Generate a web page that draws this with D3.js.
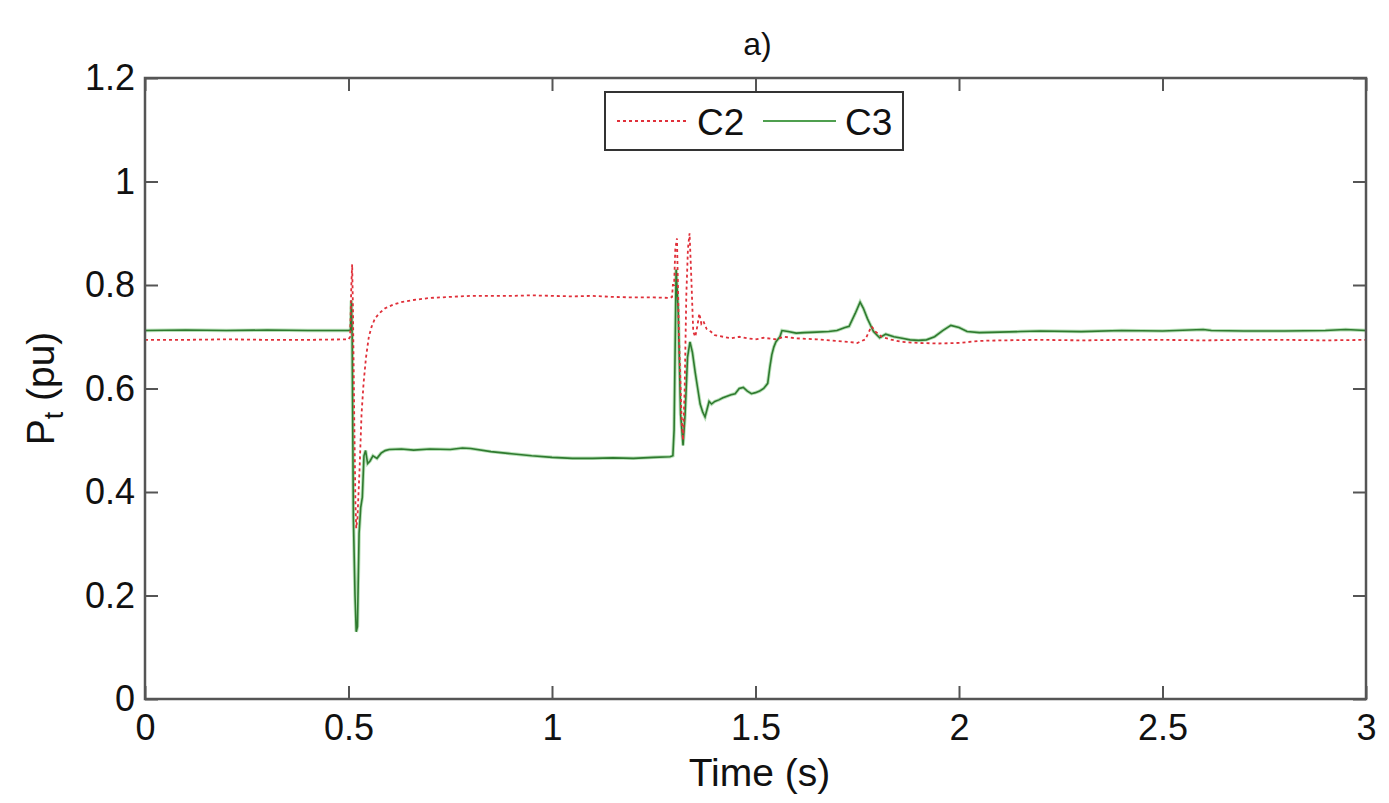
<!DOCTYPE html>
<html><head><meta charset="utf-8">
<script src="https://cdn.jsdelivr.net/npm/d3@7"></script>
<style>body{margin:0;background:#fff;} svg text{font-family:"Liberation Sans",Arial,sans-serif;fill:#111;}</style>
</head><body><svg id="c" width="1389" height="803"></svg>
<script>
const xTicks=[0,0.5,1,1.5,2,2.5,3];
const xTickLabels=["0","0.5","1","1.5","2","2.5","3"];
const yTicks=[0,0.2,0.4,0.6,0.8,1,1.2];
const yTickLabels=["0","0.2","0.4","0.6","0.8","1","1.2"];
const seriesNames=["C2","C3"];

const c3Time=[0,0.1,0.2,0.3,0.4,0.5,0.505,0.507,0.509,0.512,0.516,0.519,0.522,0.526,0.53,0.534,0.538,0.542,0.547,0.553,0.56,0.57,0.58,0.59,0.6,0.63,0.66,0.7,0.75,0.78,0.8,0.85,0.9,0.95,1.0,1.05,1.1,1.15,1.2,1.25,1.29,1.297,1.3,1.305,1.31,1.316,1.322,1.327,1.333,1.339,1.345,1.352,1.358,1.364,1.37,1.376,1.381,1.386,1.392,1.4,1.41,1.42,1.43,1.44,1.45,1.46,1.47,1.48,1.49,1.5,1.51,1.52,1.525,1.53,1.535,1.54,1.545,1.55,1.555,1.56,1.565,1.58,1.6,1.62,1.65,1.68,1.7,1.72,1.73,1.745,1.757,1.765,1.775,1.79,1.805,1.82,1.84,1.86,1.88,1.9,1.92,1.94,1.96,1.98,2.0,2.02,2.05,2.1,2.15,2.2,2.3,2.4,2.5,2.6,2.62,2.7,2.8,2.9,2.95,3.0];
const c3Values=[0.712,0.713,0.712,0.713,0.712,0.712,0.713,0.77,0.70,0.35,0.20,0.13,0.14,0.32,0.37,0.39,0.47,0.48,0.455,0.46,0.47,0.465,0.475,0.48,0.482,0.483,0.481,0.483,0.482,0.485,0.484,0.478,0.474,0.47,0.467,0.465,0.465,0.466,0.465,0.467,0.468,0.47,0.52,0.83,0.75,0.55,0.49,0.55,0.66,0.69,0.67,0.63,0.60,0.57,0.555,0.545,0.56,0.575,0.57,0.575,0.578,0.582,0.585,0.588,0.59,0.60,0.602,0.595,0.59,0.592,0.595,0.60,0.605,0.61,0.64,0.665,0.68,0.69,0.695,0.70,0.712,0.71,0.707,0.708,0.709,0.71,0.712,0.718,0.72,0.745,0.767,0.755,0.735,0.71,0.698,0.705,0.70,0.697,0.694,0.693,0.694,0.70,0.712,0.722,0.718,0.71,0.708,0.709,0.71,0.711,0.71,0.712,0.711,0.714,0.712,0.711,0.711,0.712,0.714,0.712];

const c2Time=[0,0.1,0.2,0.3,0.4,0.5,0.504,0.507,0.509,0.511,0.514,0.517,0.519,0.522,0.527,0.532,0.537,0.543,0.55,0.557,0.565,0.575,0.59,0.61,0.63,0.66,0.7,0.75,0.8,0.85,0.9,0.95,1.0,1.05,1.1,1.15,1.2,1.25,1.29,1.295,1.297,1.3,1.303,1.307,1.312,1.318,1.322,1.326,1.33,1.334,1.338,1.342,1.347,1.352,1.357,1.362,1.367,1.372,1.38,1.39,1.4,1.42,1.44,1.46,1.48,1.5,1.52,1.55,1.57,1.6,1.65,1.7,1.73,1.75,1.77,1.785,1.795,1.81,1.83,1.86,1.9,1.95,2.0,2.05,2.1,2.2,2.3,2.4,2.5,2.6,2.7,2.8,2.9,3.0];
const c2Values=[0.694,0.694,0.695,0.694,0.694,0.695,0.70,0.80,0.84,0.75,0.55,0.38,0.33,0.35,0.44,0.55,0.61,0.66,0.70,0.72,0.735,0.745,0.755,0.762,0.767,0.771,0.775,0.777,0.779,0.779,0.779,0.78,0.779,0.778,0.779,0.777,0.776,0.776,0.775,0.777,0.80,0.80,0.87,0.89,0.70,0.55,0.50,0.60,0.78,0.87,0.90,0.82,0.71,0.70,0.72,0.745,0.725,0.73,0.715,0.71,0.703,0.70,0.697,0.70,0.697,0.695,0.698,0.695,0.70,0.697,0.695,0.692,0.69,0.688,0.695,0.72,0.71,0.70,0.695,0.69,0.688,0.687,0.688,0.692,0.693,0.694,0.693,0.694,0.694,0.693,0.694,0.694,0.693,0.694];

const svg=d3.select("#c");
const L=145,R=1366,T=78,B=699;
const x=d3.scaleLinear().domain([0,3]).range([L,R]);
const y=d3.scaleLinear().domain([0,1.2]).range([B,T]);
const axisColor="#555";
const fs=36, lfs=39;

// lines
const line=d3.line().x(d=>x(d[0])).y(d=>y(d[1]));
const c2=c2Time.map((t,i)=>[t,c2Values[i]]);
const c3=c3Time.map((t,i)=>[t,c3Values[i]]);
svg.append("path").datum(c3).attr("d",line).attr("fill","none").attr("stroke","#b8e0b8").attr("stroke-width",3.5);
svg.append("path").datum(c3).attr("d",line).attr("fill","none").attr("stroke","#2f7a2f").attr("stroke-width",1.6);
svg.append("path").datum(c2).attr("d",line).attr("fill","none").attr("stroke","#e0303a").attr("stroke-width",1.8).attr("stroke-dasharray","3,3");

// axes
const tl=13;
const gB=svg.append("g").attr("transform",`translate(0,${B})`).call(d3.axisBottom(x).tickValues(xTicks).tickFormat((d,i)=>xTickLabels[i]).tickSizeInner(-tl).tickSizeOuter(0).tickPadding(15));
const gT=svg.append("g").attr("transform",`translate(0,${T})`).call(d3.axisTop(x).tickValues(xTicks).tickFormat("").tickSizeInner(-tl).tickSizeOuter(0));
const gL=svg.append("g").attr("transform",`translate(${L},0)`).call(d3.axisLeft(y).tickValues(yTicks).tickFormat((d,i)=>yTickLabels[i]).tickSizeInner(-tl).tickSizeOuter(0).tickPadding(10));
const gR=svg.append("g").attr("transform",`translate(${R},0)`).call(d3.axisRight(y).tickValues(yTicks).tickFormat("").tickSizeInner(-tl).tickSizeOuter(0));
[gB,gT,gL,gR].forEach(g=>{
  g.select(".domain").remove();
  g.selectAll(".tick line").attr("stroke",axisColor).attr("stroke-width",2);
  g.selectAll(".tick text").attr("font-size",fs).attr("font-family","Liberation Sans, Arial, sans-serif").attr("fill","#111");
});
svg.append("rect").attr("x",L).attr("y",T).attr("width",R-L).attr("height",B-T).attr("fill","none").attr("stroke",axisColor).attr("stroke-width",2.5);

// labels
svg.append("text").attr("x",x(1.5)+4).attr("y",786).attr("text-anchor","middle").attr("font-size",lfs).text("Time (s)");
const yl=svg.append("text").attr("transform",`translate(54,${y(0.6)}) rotate(-90)`).attr("text-anchor","middle").attr("font-size",lfs);
yl.append("tspan").text("P");
yl.append("tspan").attr("font-size",27).attr("dy",9).text("t");
yl.append("tspan").attr("dy",-9).text(" (pu)");
svg.append("text").attr("x",x(1.5)+2).attr("y",55).attr("text-anchor","middle").attr("font-size",32).text("a)");

// legend
const lg=svg.append("g");
lg.append("rect").attr("x",605).attr("y",92).attr("width",298).attr("height",58).attr("fill","#fff").attr("stroke","#333").attr("stroke-width",2);
lg.append("line").attr("x1",617).attr("x2",688).attr("y1",121).attr("y2",121).attr("stroke","#e0303a").attr("stroke-width",1.8).attr("stroke-dasharray","3,3");
lg.append("text").attr("x",697).attr("y",135).attr("font-size",37).text(seriesNames[0]);
lg.append("line").attr("x1",763).attr("x2",836).attr("y1",121).attr("y2",121).attr("stroke","#4f9f4f").attr("stroke-width",2);
lg.append("text").attr("x",845).attr("y",135).attr("font-size",37).text(seriesNames[1]);
</script></body></html>
